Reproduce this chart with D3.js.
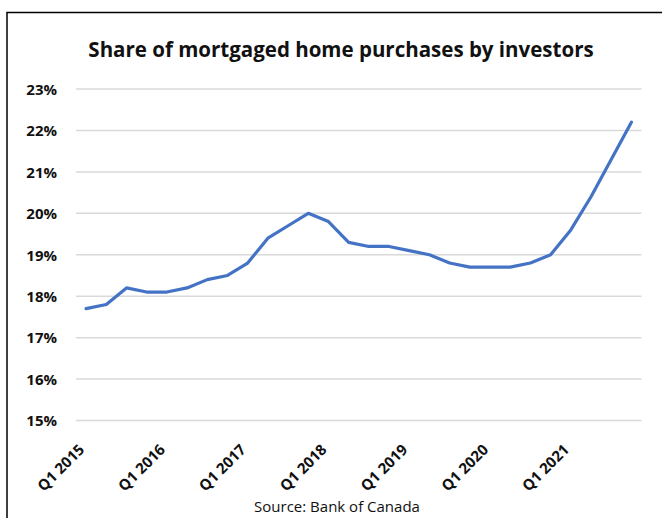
<!DOCTYPE html>
<html>
<head>
<meta charset="utf-8">
<script src="https://cdn.jsdelivr.net/npm/d3@7"></script>
<style>
  html, body { margin: 0; padding: 0; background: #fff; }
  svg { display: block; }
</style>
</head>
<body>
<svg id="chart" width="662" height="518"></svg>
<script>
// Quarterly share of mortgaged home purchases made by investors (%)
const quarters = [
  "Q1 2015", "Q2 2015", "Q3 2015", "Q4 2015",
  "Q1 2016", "Q2 2016", "Q3 2016", "Q4 2016",
  "Q1 2017", "Q2 2017", "Q3 2017", "Q4 2017",
  "Q1 2018", "Q2 2018", "Q3 2018", "Q4 2018",
  "Q1 2019", "Q2 2019", "Q3 2019", "Q4 2019",
  "Q1 2020", "Q2 2020", "Q3 2020", "Q4 2020",
  "Q1 2021", "Q2 2021", "Q3 2021", "Q4 2021"
];
const investorShare = [
  17.7, 17.8, 18.2, 18.1,
  18.1, 18.2, 18.4, 18.5,
  18.8, 19.4, 19.7, 20.0,
  19.8, 19.3, 19.2, 19.2,
  19.1, 19.0, 18.8, 18.7,
  18.7, 18.7, 18.8, 19.0,
  19.6, 20.4, 21.3, 22.2
];
const xTickLabels = ["Q1 2015", "Q1 2016", "Q1 2017", "Q1 2018", "Q1 2019", "Q1 2020", "Q1 2021"];
const yTicks = [15, 16, 17, 18, 19, 20, 21, 22, 23];

const svg = d3.select("#chart");
const font = "'Open Sans', 'Noto Sans', sans-serif";

// frame around the chart
svg.append("rect")
  .attr("x", 7).attr("y", 12.5)
  .attr("width", 700).attr("height", 600)
  .attr("fill", "none")
  .attr("stroke", "#000")
  .attr("stroke-width", 1.5);

// title
svg.append("text")
  .attr("x", 341).attr("y", 57)
  .attr("text-anchor", "middle")
  .attr("font-family", font)
  .attr("font-weight", 700)
  .attr("font-size", 20.5)
  .attr("fill", "#111")
  .text("Share of mortgaged home purchases by investors");

const x = d3.scalePoint().domain(quarters).range([76, 641.5]).padding(0.5);
const y = d3.scaleLinear().domain([15, 23]).range([420.5, 89]);

// horizontal gridlines
svg.append("g")
  .selectAll("line")
  .data(yTicks)
  .join("line")
  .attr("x1", 76).attr("x2", 641.5)
  .attr("y1", d => y(d)).attr("y2", d => y(d))
  .attr("stroke", "#d9d9d9")
  .attr("stroke-width", 1.5);

// y axis labels
const yAxis = svg.append("g")
  .attr("transform", "translate(62,0)")
  .call(d3.axisLeft(y).tickValues(yTicks).tickSize(0).tickPadding(5).tickFormat(d => d + "%"));
yAxis.select(".domain").remove();
yAxis.selectAll("text")
  .attr("font-family", font)
  .attr("font-weight", 700)
  .attr("font-size", 15)
  .attr("fill", "#111")
  .attr("dy", "0.35em");

// x axis labels, rotated
const xAxis = svg.append("g")
  .attr("transform", "translate(0,432)")
  .call(d3.axisBottom(x).tickValues(xTickLabels).tickSize(0).tickPadding(0));
xAxis.select(".domain").remove();
xAxis.selectAll("text")
  .attr("font-family", font)
  .attr("font-weight", 700)
  .attr("font-size", 15)
  .attr("fill", "#111")
  .attr("text-anchor", "end")
  .attr("dy", "0.35em")
  .attr("transform", "translate(-5,15) rotate(-45)");

// data line
const line = d3.line()
  .x((d, i) => x(quarters[i]))
  .y(d => y(d));

svg.append("path")
  .datum(investorShare)
  .attr("d", line)
  .attr("fill", "none")
  .attr("stroke", "#4472C4")
  .attr("stroke-width", 3.2)
  .attr("stroke-linejoin", "round")
  .attr("stroke-linecap", "round");

// source note
svg.append("text")
  .attr("x", 337).attr("y", 512)
  .attr("text-anchor", "middle")
  .attr("font-family", font)
  .attr("font-size", 15)
  .attr("fill", "#111")
  .text("Source: Bank of Canada");
</script>
</body>
</html>
